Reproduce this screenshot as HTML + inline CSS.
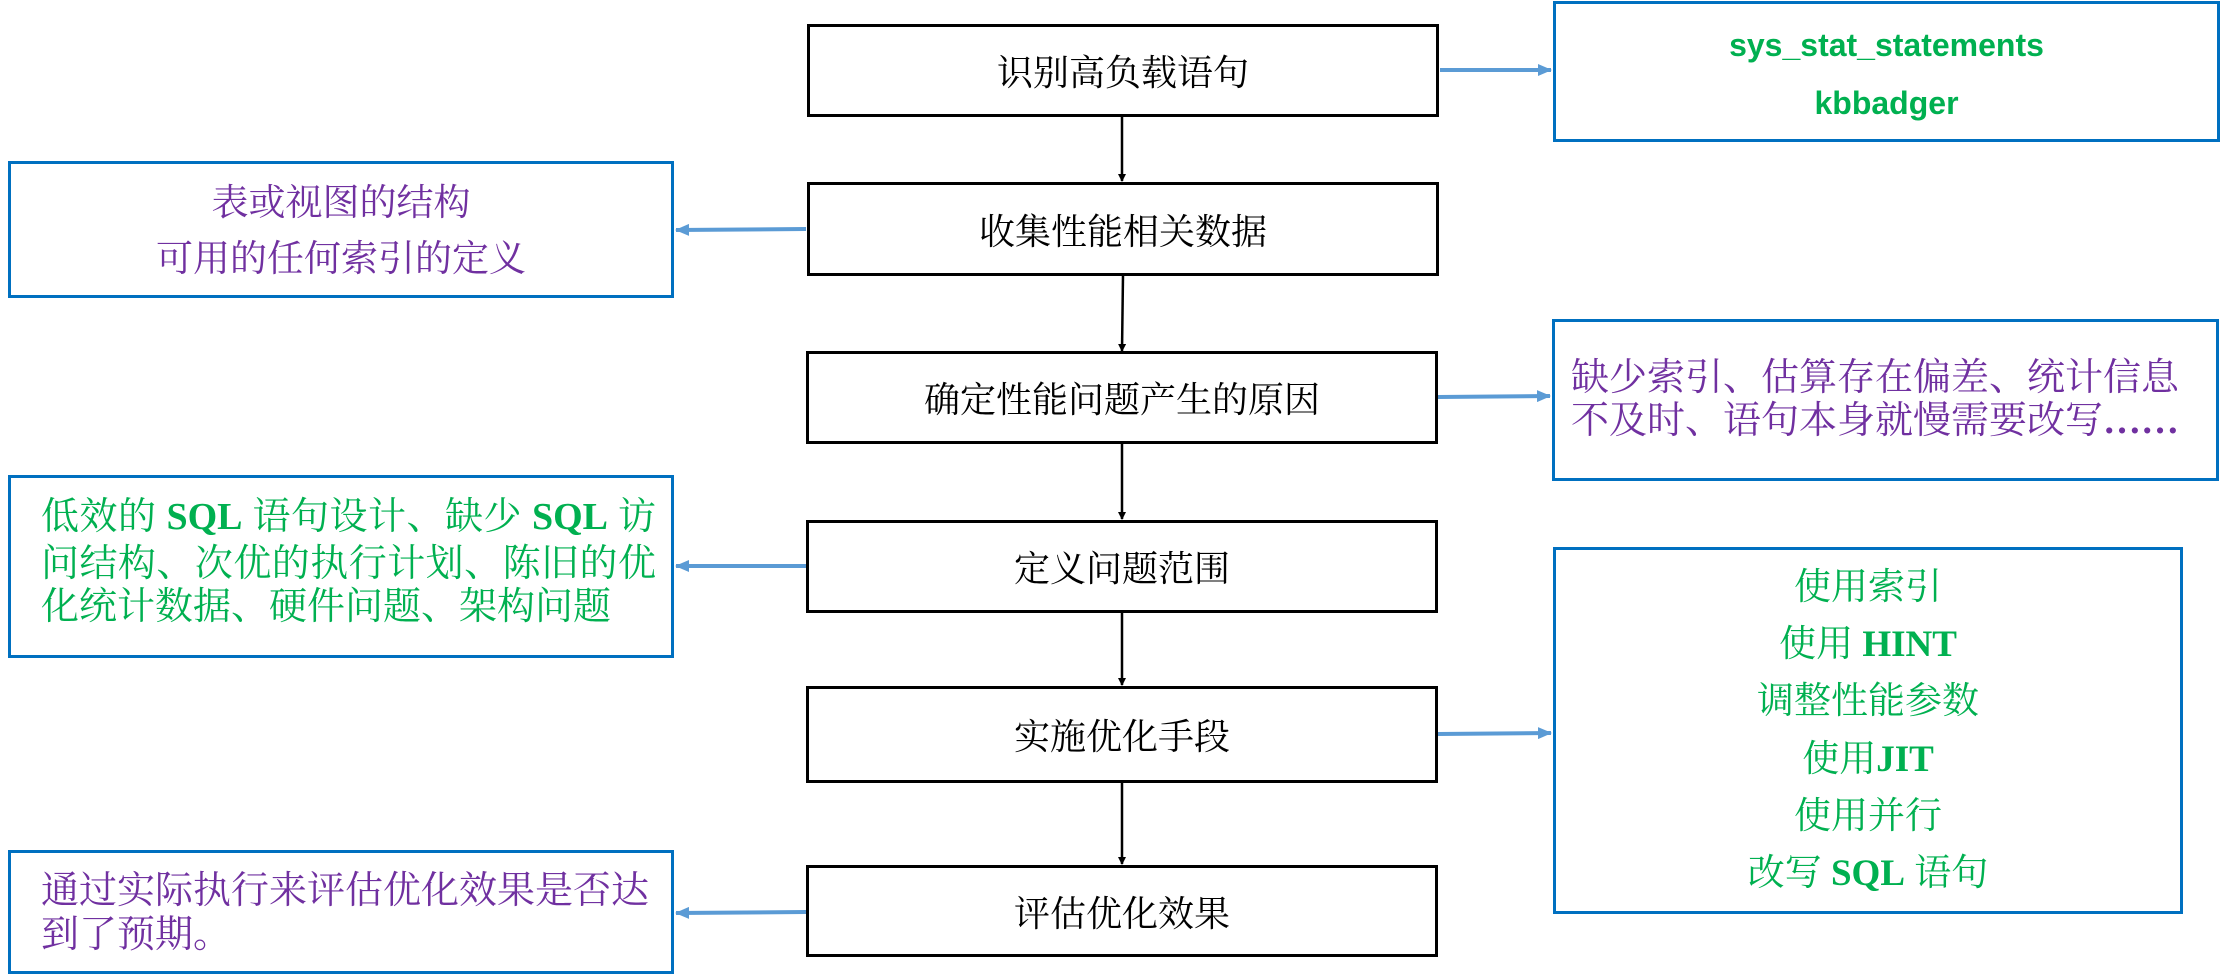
<!DOCTYPE html>
<html><head><meta charset="utf-8"><style>
body{margin:0;width:2226px;height:977px;background:#fff;position:relative;overflow:hidden;font-family:"Liberation Serif","Noto Serif CJK SC",serif}
.b{position:absolute;box-sizing:border-box}
.c{border:3px solid #000;display:flex;align-items:center;justify-content:center;font-size:36px;color:#000}
.s{border:3px solid #0070c0}
.t{position:absolute;left:0;right:0;text-align:center;font-size:37px;line-height:44px;white-space:nowrap}
.g{color:#00b050}.p{color:#7030a0}
.j{position:absolute;left:30px;width:615px;font-size:38px;line-height:44px;text-align:justify;text-align-last:justify;white-space:nowrap}
.l{position:absolute;left:30px;font-size:38px;line-height:44px;white-space:nowrap}
.e{font-family:"Liberation Sans","Noto Sans CJK SC",sans-serif;font-weight:bold;font-size:32px}
</style></head><body>
<svg width="2226" height="977" style="position:absolute;left:0;top:0">
<defs>
<marker id="k" markerWidth="8" markerHeight="8" refX="7" refY="4" orient="auto" markerUnits="userSpaceOnUse"><path d="M0,0L8,4L0,8z" fill="#000"/></marker>
<marker id="bl" markerWidth="14" markerHeight="12" refX="13" refY="6" orient="auto" markerUnits="userSpaceOnUse"><path d="M0,0L14,6L0,12z" fill="#5b9bd5"/></marker>
</defs>
<g stroke="#000" stroke-width="2.5">
<line x1="1122" y1="116" x2="1122" y2="181" marker-end="url(#k)"/>
<line x1="1123" y1="275" x2="1122" y2="351" marker-end="url(#k)"/>
<line x1="1122" y1="443" x2="1122" y2="519" marker-end="url(#k)"/>
<line x1="1122" y1="612" x2="1122" y2="685" marker-end="url(#k)"/>
<line x1="1122" y1="782" x2="1122" y2="864" marker-end="url(#k)"/>
</g>
<g stroke="#5b9bd5" stroke-width="4">
<line x1="1440" y1="70" x2="1551" y2="70" marker-end="url(#bl)"/>
<line x1="806" y1="229" x2="676" y2="230" marker-end="url(#bl)"/>
<line x1="1438" y1="397" x2="1550" y2="396" marker-end="url(#bl)"/>
<line x1="806" y1="566" x2="676" y2="566" marker-end="url(#bl)"/>
<line x1="1438" y1="734" x2="1551" y2="733" marker-end="url(#bl)"/>
<line x1="806" y1="912" x2="676" y2="913" marker-end="url(#bl)"/>
</g>
</svg>
<div class="b c" style="left:807px;top:24px;width:632px;height:93px">识别高负载语句</div>
<div class="b c" style="left:807px;top:182px;width:632px;height:94px">收集性能相关数据</div>
<div class="b c" style="left:806px;top:351px;width:632px;height:93px">确定性能问题产生的原因</div>
<div class="b c" style="left:806px;top:520px;width:632px;height:93px">定义问题范围</div>
<div class="b c" style="left:806px;top:686px;width:632px;height:97px">实施优化手段</div>
<div class="b c" style="left:806px;top:865px;width:632px;height:92px">评估优化效果</div>

<div class="b s" style="left:8px;top:161px;width:666px;height:137px">
<div class="t p" style="top:18px">表或视图的结构</div>
<div class="t p" style="top:74px">可用的任何索引的定义</div>
</div>
<div class="b s" style="left:8px;top:475px;width:666px;height:183px">
<div class="j g" style="top:17px">低效的 <b>SQL</b> 语句设计、缺少 <b>SQL</b> 访</div>
<div class="j g" style="top:64px">问结构、次优的执行计划、陈旧的优</div>
<div class="l g" style="top:107px">化统计数据、硬件问题、架构问题</div>
</div>
<div class="b s" style="left:8px;top:850px;width:666px;height:124px">
<div class="l p" style="top:16px">通过实际执行来评估优化效果是否达</div>
<div class="l p" style="top:60px">到了预期。</div>
</div>

<div class="b s" style="left:1553px;top:1px;width:667px;height:141px">
<div class="t g e" style="top:19px">sys_stat_statements</div>
<div class="t g e" style="top:77px">kbbadger</div>
</div>
<div class="b s" style="left:1552px;top:319px;width:667px;height:162px">
<div class="l p" style="left:16px;top:34px">缺少索引、估算存在偏差、统计信息</div>
<div class="l p" style="left:16px;top:77px">不及时、语句本身就慢需要改写<b>……</b></div>
</div>
<div class="b s" style="left:1553px;top:547px;width:630px;height:367px">
<div class="t g" style="top:16px">使用索引</div>
<div class="t g" style="top:73px">使用 <b>HINT</b></div>
<div class="t g" style="top:130px">调整性能参数</div>
<div class="t g" style="top:188px">使用<b>JIT</b></div>
<div class="t g" style="top:245px">使用并行</div>
<div class="t g" style="top:302px">改写 <b>SQL</b> 语句</div>
</div>
</body></html>
